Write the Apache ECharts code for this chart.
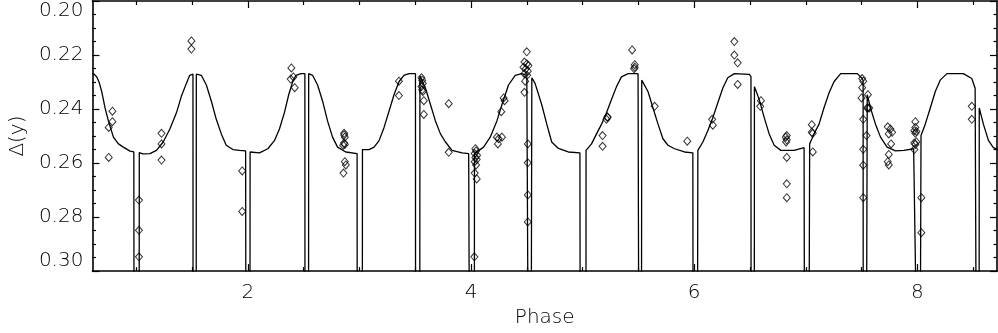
<!DOCTYPE html>
<html>
<head>
<meta charset="utf-8">
<script src="https://cdn.jsdelivr.net/npm/echarts@6/dist/echarts.min.js"></script>
<style>
html,body{margin:0;padding:0;background:#fff;}
#c{width:998px;height:333px;}
</style>
</head>
<body>
<div id="c"></div>
<script>
// Model light curve (phase, Δy); 0.32 marks the eclipse dips running off the bottom of the plot
var curvePhase = [
0.607,0.625,0.646,0.668,0.690,0.720,0.750,0.795,0.840,0.884,0.944,0.978,
0.980,1.026,
1.027,1.060,1.122,1.181,1.241,1.301,1.360,1.404,1.449,1.479,1.495,1.508,
1.509,1.537,
1.538,1.583,1.628,1.673,1.717,1.762,1.806,1.866,1.926,1.980,
1.982,2.019,
2.020,2.104,2.179,2.238,2.283,2.327,2.366,2.402,2.431,2.476,2.511,
2.512,2.544,
2.545,2.580,2.625,2.670,2.714,2.759,2.804,2.878,2.979,
2.980,3.026,
3.027,3.087,3.131,3.176,3.220,3.265,3.310,3.354,3.399,3.444,3.502,
3.503,3.541,
3.542,3.592,3.637,3.681,3.726,3.771,3.830,3.920,3.979,
3.985,4.030,
4.031,4.113,4.172,4.232,4.277,4.336,4.396,4.455,4.500,4.510,
4.511,4.540,
4.545,4.574,4.634,4.679,4.723,4.783,4.872,4.976,
4.978,5.030,
5.031,5.080,5.125,5.170,5.214,5.259,5.304,5.348,5.408,5.497,5.502,
5.503,5.528,
5.530,5.586,5.631,5.676,5.720,5.765,5.824,5.913,5.988,
5.990,6.030,
6.033,6.078,6.122,6.167,6.212,6.256,6.301,6.360,6.494,6.509,
6.510,6.539,
6.540,6.583,6.628,6.672,6.717,6.777,6.896,6.985,
6.988,7.030,
7.035,7.074,7.119,7.163,7.208,7.253,7.313,7.462,7.506,7.514,
7.515,7.545,
7.551,7.580,7.625,7.670,7.729,7.804,7.878,7.967,
7.991,8.027,
8.033,8.071,8.116,8.161,8.205,8.265,8.413,8.488,8.518,8.526,
8.527,8.554,
8.555,8.592,8.637,8.681,8.723
];
var curveDy = [
0.2269,0.2272,0.2281,0.2302,0.2335,0.2396,0.2444,0.2504,0.2529,0.2541,0.2556,0.2559,
0.32,0.32,
0.2561,0.2566,0.2565,0.2553,0.2522,0.2474,0.2414,0.2353,0.2305,0.2275,0.2271,0.2271,
0.32,0.32,
0.2271,0.2275,0.2311,0.2371,0.2438,0.2492,0.2534,0.2550,0.2553,0.2555,
0.32,0.32,
0.2559,0.2562,0.2547,0.2517,0.2474,0.2414,0.2347,0.2299,0.2275,0.2269,0.2269,
0.32,0.32,
0.2269,0.2275,0.2311,0.2371,0.2444,0.2504,0.2541,0.2559,0.2565,
0.32,0.32,
0.2550,0.2550,0.2541,0.2517,0.2469,0.2408,0.2347,0.2299,0.2275,0.2269,0.2269,
0.32,0.32,
0.2277,0.2323,0.2384,0.2444,0.2492,0.2522,0.2553,0.2562,0.2565,
0.32,0.32,
0.2565,0.2541,0.2504,0.2444,0.2384,0.2311,0.2275,0.2269,0.2275,0.2278,
0.32,0.32,
0.2284,0.2305,0.2384,0.2456,0.2522,0.2546,0.2559,0.2562,
0.32,0.32,
0.2553,0.2529,0.2492,0.2456,0.2414,0.2365,0.2317,0.2281,0.2269,0.2269,0.2270,
0.32,0.32,
0.2293,0.2335,0.2396,0.2456,0.2510,0.2534,0.2547,0.2559,0.2562,
0.32,0.32,
0.2553,0.2522,0.2480,0.2432,0.2377,0.2323,0.2284,0.2269,0.2272,0.2280,
0.32,0.32,
0.2317,0.2365,0.2432,0.2492,0.2534,0.2553,0.2553,0.2543,
0.32,0.32,
0.2529,0.2492,0.2456,0.2396,0.2341,0.2299,0.2269,0.2269,0.2287,0.2295,
0.32,0.32,
0.2347,0.2396,0.2456,0.2504,0.2541,0.2555,0.2553,0.2547,
0.32,0.32,
0.2498,0.2456,0.2396,0.2335,0.2293,0.2269,0.2269,0.2287,0.2323,0.2330,
0.32,0.32,
0.2396,0.2456,0.2516,0.2543,0.2550
];

// Observations (diamonds)
var obsPhase = [
0.753,0.786,0.786,0.753,
1.494,1.494,
1.024,1.024,1.024,
1.226,1.226,1.226,
1.949,1.949,
2.390,2.384,2.408,2.420,
2.863,2.863,2.869,2.863,2.869,2.854,2.869,2.878,2.857,
3.354,3.354,
3.556,3.5625,3.568,3.556,3.5625,3.568,3.577,3.577,
3.800,3.800,
4.039,4.045,4.033,4.054,4.039,4.051,4.033,4.045,4.033,4.051,4.030,
4.232,4.247,4.277,4.241,4.271,4.292,4.301,
4.500,4.479,4.500,4.515,4.470,4.491,4.509,4.479,4.503,4.485,4.479,
4.509,4.509,4.509,4.509,
5.223,5.214,5.223,
5.179,5.179,
5.444,
5.467,5.467,5.462,
5.646,
5.938,
6.161,6.167,
6.360,6.360,6.390,6.390,
6.598,6.592,
6.830,6.821,6.830,6.824,6.830,6.830,6.830,
7.054,7.054,7.063,7.063,
7.506,7.515,7.506,7.500,7.515,7.515,7.515,7.515,
7.557,7.557,7.569,7.551,7.545,
7.735,7.759,7.774,7.744,7.765,7.744,7.735,7.744,
7.982,7.982,7.973,7.991,7.982,7.991,7.973,7.982,7.973,
8.036,8.036,
8.488,8.488
];
var obsDy = [
0.2468,0.2408,0.2447,0.2579,
0.2148,0.2178,
0.2737,0.2849,0.2947,
0.2490,0.2529,0.2589,
0.2629,0.2779,
0.2248,0.2289,0.2281,0.2321,
0.2490,0.2496,0.2504,0.2526,0.2531,0.2534,0.2595,0.2607,0.2637,
0.2297,0.2350,
0.2284,0.2293,0.2305,0.2317,0.2329,0.2335,0.2369,0.2420,
0.2380,0.2560,
0.2547,0.2555,0.2565,0.2571,0.2579,0.2587,0.2595,0.2607,0.2637,0.2659,0.2947,
0.2504,0.2510,0.2504,0.2529,0.2410,0.2359,0.2369,
0.2188,0.2226,0.2233,0.2239,0.2245,0.2251,0.2260,0.2269,0.2275,0.2297,0.2338,
0.2529,0.2599,0.2718,0.2818,
0.2429,0.2438,0.2431,
0.2498,0.2538,
0.2181,
0.2236,0.2245,0.2251,
0.2390,
0.2519,
0.2438,0.2460,
0.2150,0.2200,0.2229,0.2309,
0.2369,0.2390,
0.2498,0.2504,0.2514,0.2522,0.2579,0.2677,0.2728,
0.2458,0.2486,0.2490,0.2559,
0.2287,0.2297,0.2321,0.2359,0.2438,0.2549,0.2608,0.2728,
0.2347,0.2396,0.2396,0.2396,0.2498,
0.2466,0.2474,0.2486,0.2492,0.2529,0.2568,0.2595,0.2607,
0.2447,0.2468,0.2480,0.2483,0.2490,0.2522,0.2526,0.2531,0.2550,
0.2728,0.2858,
0.2390,0.2438
];

var xMajor = [2, 4, 6, 8];
var xMinor = [1, 1.5, 2.5, 3, 3.5, 4.5, 5, 5.5, 6.5, 7, 7.5, 8.5];
var xRange = [0.607, 8.714];
var yRange = [0.20, 0.30];
var yStep = 0.02;

var FONT = 'DejaVu Sans';
var FW = 200;
var curveData = curvePhase.map(function (p, i) { return [p, curveDy[i]]; });
var obsData = obsPhase.map(function (p, i) { return [p, obsDy[i]]; });

function xAx(pos, ticks, len, withLabels, withLine) {
  return {
    type: 'value', position: pos, min: xRange[0], max: xRange[1],
    axisLine: { show: withLine, onZero: false, lineStyle: { color: '#000', width: 1.6 } },
    axisTick: { show: true, inside: true, length: len, customValues: ticks, lineStyle: { color: '#000', width: 1.2 } },
    axisLabel: withLabels ? { show: true, customValues: ticks, margin: 12, color: '#000', fontFamily: FONT, fontWeight: FW, fontSize: 20 } : { show: false },
    splitLine: { show: false }
  };
}
function yAx(pos, withLabels) {
  return {
    type: 'value', position: pos, inverse: true, min: yRange[0], max: yRange[1], interval: yStep,
    axisLine: { show: true, onZero: false, lineStyle: { color: '#000', width: 1.6 } },
    axisTick: { show: true, inside: true, length: 7, lineStyle: { color: '#000', width: 1.2 } },
    minorTick: { show: true, splitNumber: 4, length: 3.5, lineStyle: { color: '#000', width: 1.2 } },
    axisLabel: withLabels ? {
      show: true, margin: 9, color: '#000', fontFamily: FONT, fontWeight: FW, fontSize: 20,
      verticalAlignMinLabel: 'top', verticalAlignMaxLabel: 'bottom',
      formatter: function (v) { return v.toFixed(2); }
    } : { show: false },
    splitLine: { show: false }
  };
}

var xAxes = [
  xAx('bottom', xMajor, 7, true, true),
  xAx('bottom', xMinor, 4, false, false),
  xAx('top', xMajor, 7, false, true),
  xAx('top', xMinor, 4, false, false)
];
xAxes[0].name = 'Phase';
xAxes[0].nameLocation = 'middle';
xAxes[0].nameGap = 36;
xAxes[0].nameTextStyle = { color: '#000', fontFamily: FONT, fontWeight: FW, fontSize: 20 };

var yAxes = [yAx('left', true), yAx('right', false)];
yAxes[0].name = 'Δ(y)';
yAxes[0].nameLocation = 'middle';
yAxes[0].nameGap = 62;
yAxes[0].nameRotate = 90;
yAxes[0].nameTextStyle = { color: '#000', fontFamily: FONT, fontWeight: FW, fontSize: 20 };

var chart = echarts.init(document.getElementById('c'), null, { renderer: 'canvas' });
chart.setOption({
  backgroundColor: '#fff',
  animation: false,
  grid: { left: 89, right: 1, top: 1, bottom: 57, containLabel: false },
  xAxis: xAxes,
  yAxis: yAxes,
  series: [
    {
      type: 'line', xAxisIndex: 0, yAxisIndex: 0, data: curveData,
      showSymbol: false, symbol: 'none', clip: true,
      lineStyle: { color: '#000', width: 1.3 }
    },
    {
      type: 'scatter', xAxisIndex: 0, yAxisIndex: 0, data: obsData,
      symbol: 'diamond', symbolSize: [7, 8], clip: true,
      itemStyle: { color: 'rgba(255,255,255,0)', borderColor: '#000', borderWidth: 1 }
    }
  ]
});
</script>
</body>
</html>
